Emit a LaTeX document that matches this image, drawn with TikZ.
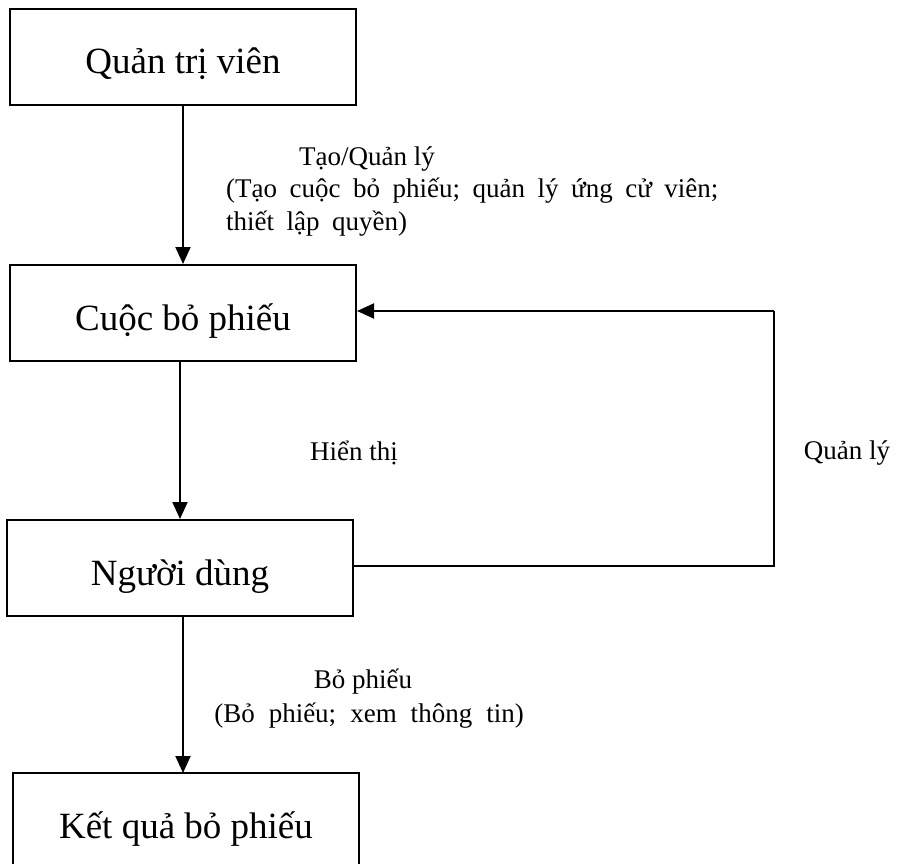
\documentclass[tikz,border=0pt]{standalone}
\usepackage{fontspec}
\setmainfont{Liberation Serif}
\usetikzlibrary{arrows.meta,calc}
\begin{document}
\begin{tikzpicture}[x=1pt,y=-1pt,
  box/.style={draw,line width=2pt,minimum width=346pt,minimum height=96pt,inner sep=0pt,
    font=\fontsize{37}{41}\selectfont,text height=34pt,text depth=0pt},
  arr/.style={line width=2pt,-{Triangle[length=17pt,width=15pt]}},
  conn/.style={line width=2pt},
  lbl/.style={font=\fontsize{27}{33}\selectfont,inner sep=0pt,anchor=base}]
\useasboundingbox (0,0) rectangle (902,864);
\node[box] (b1) at (183,57) {Quản trị viên};
\node[box] (b2) at (183,313) {Cuộc bỏ phiếu};
\node[box] (b3) at (180,568) {Người dùng};
\node[box] (b4) at (186,821) {Kết quả bỏ phiếu};
\coordinate (c1) at (774,311);
\coordinate (c2) at (774,566);
\draw[arr] (b1.south) -- (b2.north);
\draw[arr] (b3.north |- b2.south) -- (b3.north);
\draw[arr] (183,617) -- (183,773);
\draw[conn] (b3.east |- c2) -- (c2) -- (c1);
\draw[arr] (c1) -- (b2.east |- c1);
\node[lbl] (t1) at (367,165) {Tạo/Quản lý};
\node[lbl,anchor=base west,align=left] (t2) at (226,230) {\spaceskip=12.5pt plus 1pt (Tạo cuộc bỏ phiếu; quản lý ứng cử viên;\\\spaceskip=12.5pt plus 1pt thiết lập quyền)};
\node[lbl] (t3) at (354,460) {Hiển thị};
\node[lbl] (t4) at (847,459) {Quản lý};
\node[lbl] (t5) at (363,688) {Bỏ phiếu};
\node[lbl] (t6) at (369,722) {\spaceskip=14pt plus 1pt (Bỏ phiếu; xem thông tin)};
\end{tikzpicture}
\end{document}
